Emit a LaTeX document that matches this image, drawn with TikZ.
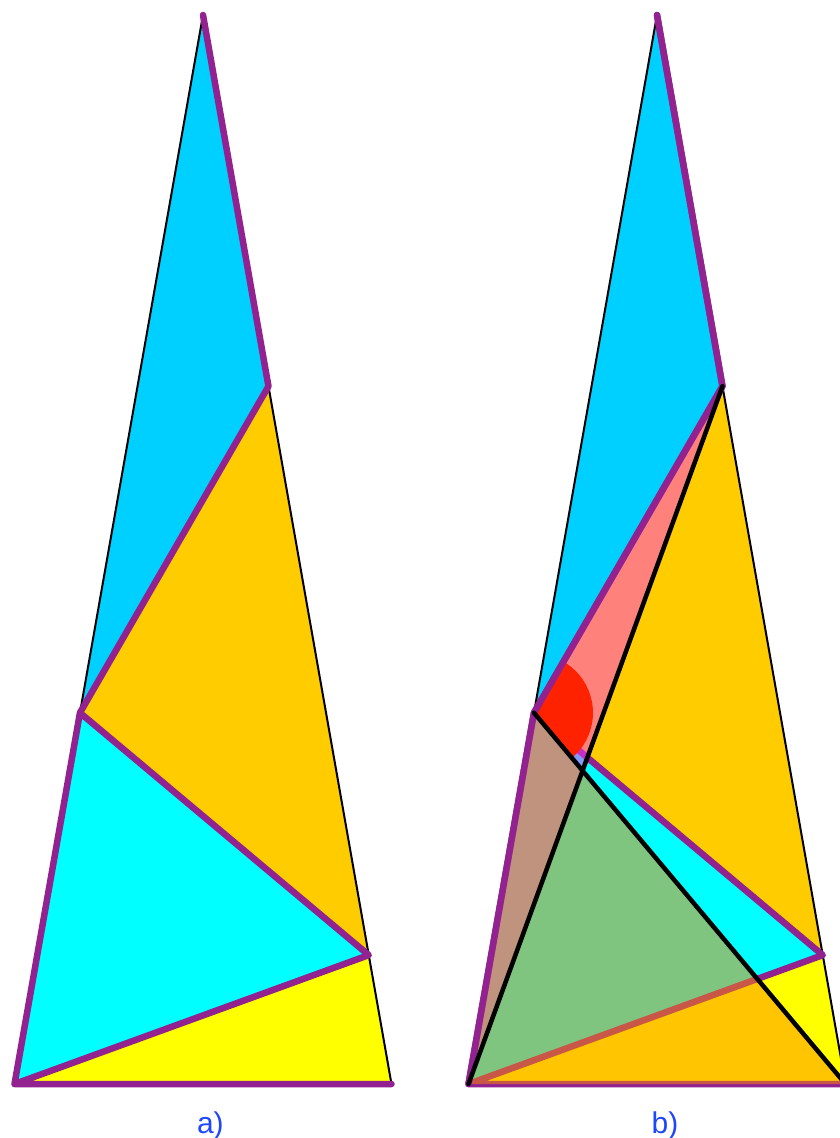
\documentclass[tikz,border=0pt]{standalone}
\usepackage{fontspec}
\setmainfont{Liberation Sans}
\usetikzlibrary{calc}
\definecolor{sky}{RGB}{0,208,255}
\definecolor{gold}{RGB}{255,204,0}
\definecolor{aqua}{RGB}{0,255,255}
\definecolor{lem}{RGB}{255,255,0}
\definecolor{purp}{RGB}{146,34,144}
\definecolor{ovmag}{RGB}{255,56,248}
\definecolor{ovor}{RGB}{255,140,0}
\definecolor{sect}{RGB}{255,34,0}
\definecolor{lab}{RGB}{30,70,255}
\newcommand\mkpts[2]{%
  \coordinate (A#1) at (203+#2,15);
  \coordinate (Q#1) at (268.47+#2,386.27);
  \coordinate (P#1) at (79.97+#2,712.75);
  \coordinate (R#1) at (368.76+#2,955.09);
  \coordinate (B#1) at (14.50+#2,1084.03);
  \coordinate (C#1) at (391.50+#2,1084.03);
}
\newcommand\basefig[1]{%
  \fill[sky] (A#1)--(Q#1)--(P#1)--cycle;
  \fill[gold] (Q#1)--(P#1)--(R#1)--cycle;
  \fill[aqua] (P#1)--(R#1)--(B#1)--cycle;
  \fill[lem] (B#1)--(R#1)--(C#1)--cycle;
  \draw[thinline] (A#1)--(P#1) (Q#1)--(C#1);
  \draw[purpline] (A#1)--(Q#1)--(P#1)--(R#1)--(B#1)--(C#1) (P#1)--(B#1);
}
\begin{document}
\begin{tikzpicture}[x=1pt,y=-1pt,
  purpline/.style={draw=purp,line width=6.5pt,line cap=round,line join=round},
  thinline/.style={draw=black,line width=2pt},
  thickline/.style={draw=black,line width=4.5pt,line cap=round},
  overlay1/.style={fill=ovmag,fill opacity=0.5},
  overlay2/.style={fill=ovor,fill opacity=0.5},
  lbl/.style={text=lab,inner sep=0pt,anchor=base,font=\fontsize{30}{34}\selectfont}]
\useasboundingbox (0,0) rectangle (840,1138);
\clip (0,0) rectangle (840,1138);
\mkpts{a}{0}
\mkpts{b}{454}
% figure a
\basefig{a}
% figure b
\basefig{b}
\fill[overlay1] (Pb)--(Qb)--(Bb)--cycle;
\fill[overlay2] (Pb)--(Bb)--(Cb)--cycle;
\begin{scope}
  \clip (Pb)--(Qb)--(Cb)--cycle;
  \fill[sect] (Pb) circle (59pt);
\end{scope}
\draw[purpline] (Ab)--(Qb)--(Pb)--(Bb);
\draw[thickline] (Bb)--(Qb) (Pb)--(Cb);
\node[lbl] (la) at (210.4,1133) {a)};
\node[lbl] (lb) at (665,1133) {b)};
\end{tikzpicture}
\end{document}
